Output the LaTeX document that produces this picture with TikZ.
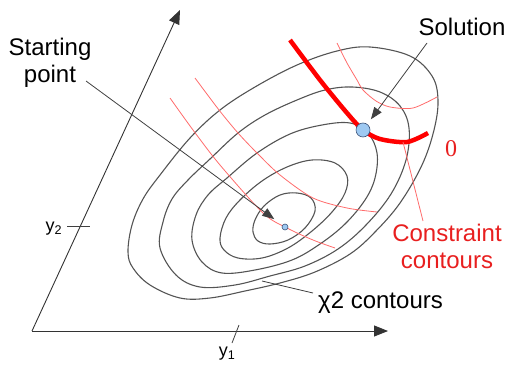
\documentclass[tikz,border=0pt]{standalone}
\usepackage{fontspec}
\setmainfont{Liberation Sans}
\newfontfamily\numfont{Liberation Serif}
\usepackage{tikz}
\usetikzlibrary{arrows.meta}
\definecolor{contgray}{rgb}{0.33,0.33,0.33}
\definecolor{conred}{rgb}{1,0,0}
\definecolor{thinred}{rgb}{1,0.42,0.42}
\definecolor{labred}{rgb}{0.91,0.12,0.12}
\definecolor{ptblue}{rgb}{0.62,0.79,0.95}
\definecolor{ptedge}{rgb}{0.24,0.33,0.48}

\begin{document}
\begin{tikzpicture}[x=1pt, y=-1pt,
  txt/.style={font=\fontsize{24}{27}\selectfont, inner sep=0pt, align=center},
  axislabel/.style={font=\fontsize{18}{20}\selectfont, inner sep=0pt},
  chicont/.style={draw=contgray, line width=1.1pt},
  conline/.style={draw=thinred, line width=0.8pt},
  axisline/.style={draw=black!80, line width=0.9pt, -{Triangle[length=14pt,width=11pt]}},
  ptr/.style={draw=black!75, line width=0.8pt, -{Triangle[length=12pt,width=9pt]}},
  leader/.style={draw=black!75, line width=0.8pt},
  ptdot/.style={circle, draw=ptedge, fill=ptblue, line width=0.6pt, inner sep=0pt},
]
\useasboundingbox (0,0) rectangle (510,366);

\coordinate (orig) at (32,331);
\coordinate (xend) at (388,331);
\coordinate (yend) at (180,10);
\draw[axisline] (orig) -- (xend);
\draw[axisline] (orig) -- (yend);
\draw[leader] (67,226) -- (90,226);
\draw[leader] (239,325) -- (232,343);
\node[axislabel] (ytwo) at (54,229) {y\textsubscript{2}};
\node[axislabel] (yone) at (227,354) {y\textsubscript{1}};

\draw[chicont] plot[smooth cycle, tension=0.6] coordinates {(253,232) (258,241) (270,244) (288,240) (305,228)
  (315,211) (311,198) (297,193) (280,195) (264,206) (255,220)};
\draw[chicont] plot[smooth cycle, tension=0.6] coordinates {(220,238) (226,218) (240,200) (262,181) (287,167)
  (312,160) (335,163) (347,176) (345,193) (332,212) (312,231) (288,248) (262,258) (238,258) (224,250)};
\draw[chicont] plot[smooth cycle, tension=0.6] coordinates {(192,240) (196,215) (208,195) (227,178) (257,153)
  (290,134) (322,125) (350,123) (368,133) (377,153) (375,178) (365,200) (345,224) (320,244) (292,260)
  (255,270) (222,273) (202,262)};
\draw[chicont] plot[smooth cycle, tension=0.6] coordinates {(160,248) (163,222) (172,199) (188,180) (210,159)
  (238,133) (265,115) (297,100) (325,90) (352,87) (380,92) (400,106) (409,128) (406,160) (391,194)
  (366,225) (338,249) (305,266) (270,276) (235,285) (200,287) (176,275)};
\draw[chicont] plot[smooth cycle, tension=0.6] coordinates {(128,252) (132,225) (143,199) (160,175) (190,138)
  (220,110) (255,87) (297,65) (337,51) (370,47) (410,56) (432,76) (438,100) (434,130) (422,165)
  (400,203) (375,232) (350,254) (315,272) (280,283) (245,291) (210,298) (180,298) (150,285) (133,268)};

\draw[conline] plot[smooth] coordinates {(170,98) (193,130) (220,165) (263,213) (287,228) (313,240) (335,248)};
\draw[conline] plot[smooth] coordinates {(195,78) (219,110) (238,133) (257,153) (280,175) (313,198) (347,208) (377,212)};
\draw[conline] plot[smooth] coordinates {(337,43) (347,63) (357,80) (363,90) (376,101) (390,107) (413,108) (437,97)};
\draw[draw=conred, line width=4.5pt] plot[smooth] coordinates {(290,40) (320,80) (347,113) (363,130) (380,139) (407,142) (428,133)};

\node[ptdot, minimum size=14pt] (solpt) at (363,130) {};
\node[ptdot, minimum size=6pt] (startpt) at (285,227) {};

\node[txt, anchor=base] (start) at (50,83) {Starting\\point};
\node[txt, anchor=base] (sol) at (462,36) {Solution};
\node[txt, text=labred, anchor=base] (cons) at (447,268) {Constraint\\contours};
\node[txt, anchor=base west] (chi) at (318,308) {χ2 contours};
\node[font=\numfont\fontsize{24}{24}\selectfont, text=labred, inner sep=0pt] (zero) at (451,149) {0};

\coordinate (startfrom) at (86,81);
\coordinate (solfrom) at (427,43);
\coordinate (consfrom) at (403,142);
\coordinate (consto) at (423,221);
\coordinate (chifrom) at (262,281);
\coordinate (chito) at (313,293);

\draw[ptr, shorten >=10pt] (startfrom) -- (startpt);
\draw[ptr, shorten >=6pt] (solfrom) -- (solpt);
\draw[conline] (consfrom) -- (consto);
\draw[leader] (chifrom) -- (chito);
\end{tikzpicture}
\end{document}
